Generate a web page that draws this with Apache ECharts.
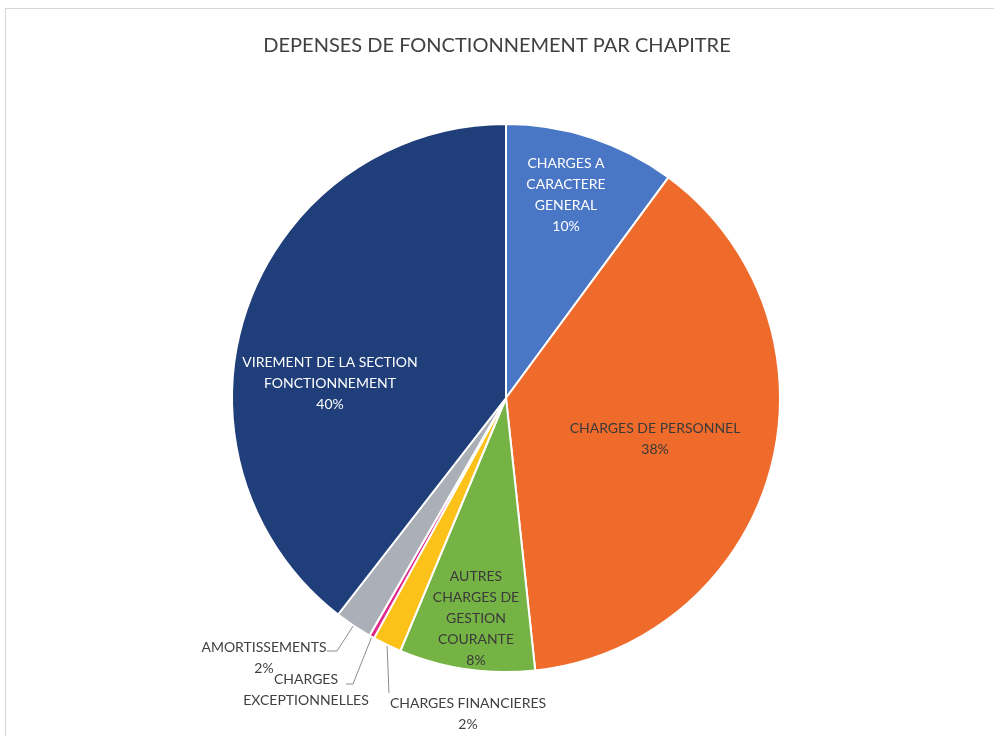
<!DOCTYPE html>
<html>
<head>
<meta charset="utf-8">
<script src="https://cdn.jsdelivr.net/npm/echarts@6/dist/echarts.min.js"></script>
<style>
  html, body { margin: 0; padding: 0; background: #fff; }
  #frame { position: absolute; left: 5px; top: 8px; width: 1000px; height: 740px; border: 1px solid #d6d6d6; }
  #chart { width: 994px; height: 736px; }
</style>
</head>
<body>
<div id="frame"></div>
<div id="chart"></div>
<script>
// chapitres (sens horaire depuis midi)
var chapitres = [
  "CHARGES A\nCARACTERE\nGENERAL",
  "CHARGES DE PERSONNEL",
  "AUTRES\nCHARGES DE\nGESTION\nCOURANTE",
  "CHARGES FINANCIERES",
  "CHARGES\nEXCEPTIONNELLES",
  "AMORTISSEMENTS",
  "VIREMENT DE LA SECTION\nFONCTIONNEMENT"
];
// parts en %
var parts = [10.1, 38.2, 8.0, 1.7, 0.3, 2.2, 39.5];
var couleurs = ["#4a76c6", "#ef6b2c", "#76b345", "#fcc21a", "#e0288c", "#abb0b8", "#1f3e7a"];
var showPct = [true, true, true, true, false, true, true];

// positions des étiquettes (centre du bloc de texte)
var labelPos = [
  [566, 195], [655, 439], [476, 618], [468, 714], [306, 690], [264, 658], [330, 383]
];
// coudes des traits de rappel (étiquettes extérieures)
var leaderBends = [null, null, null, [[389, 693], [389, 693]], [[353, 684], [346, 684]], [[337, 651], [327, 651]], null];
var labelColor = ["#fff", "#3a3a3a", "#3a3a3a", "#404040", "#404040", "#404040", "#fff"];
var outside = [false, false, false, true, true, true, false];

var chart = echarts.init(document.getElementById("chart"));

var seriesData = [];
for (var i = 0; i < parts.length; i++) {
  seriesData.push({
    name: chapitres[i],
    value: parts[i],
    itemStyle: { color: couleurs[i] },
    label: {
      position: outside[i] ? "outside" : "inside",
      color: labelColor[i]
    },
    labelLine: { show: outside[i] }
  });
}

var option = {
  animation: false,
  title: {
    text: "DEPENSES DE FONCTIONNEMENT PAR CHAPITRE",
    left: "center",
    top: 31,
    textStyle: { fontFamily: "Lato", fontSize: 20, fontWeight: "normal", color: "#404040" }
  },
  series: [
    {
      type: "pie",
      center: [506, 398],
      radius: [0, 274],
      startAngle: 90,
      clockwise: true,
      avoidLabelOverlap: false,
      itemStyle: { borderColor: "#fff", borderWidth: 2 },
      label: {
        fontFamily: "Lato",
        fontSize: 14,
        lineHeight: 21,
        align: "center",
        formatter: function (p) {
          return showPct[p.dataIndex] ? p.name + "\n" + Math.round(p.percent) + "%" : p.name;
        }
      },
      labelLine: {
        length: 10,
        length2: 8,
        lineStyle: { color: "#8c8c8c", width: 1 }
      },
      labelLayout: function (p) {
        var pos = labelPos[p.dataIndex];
        var res = { x: pos[0], y: pos[1], align: "center", verticalAlign: "middle" };
        var bends = leaderBends[p.dataIndex];
        if (bends && p.labelLinePoints) {
          res.labelLinePoints = [p.labelLinePoints[0], bends[0], bends[1]];
        }
        return res;
      },
      emphasis: { disabled: true },
      data: seriesData
    }
  ]
};

chart.setOption(option);
</script>
</body>
</html>
